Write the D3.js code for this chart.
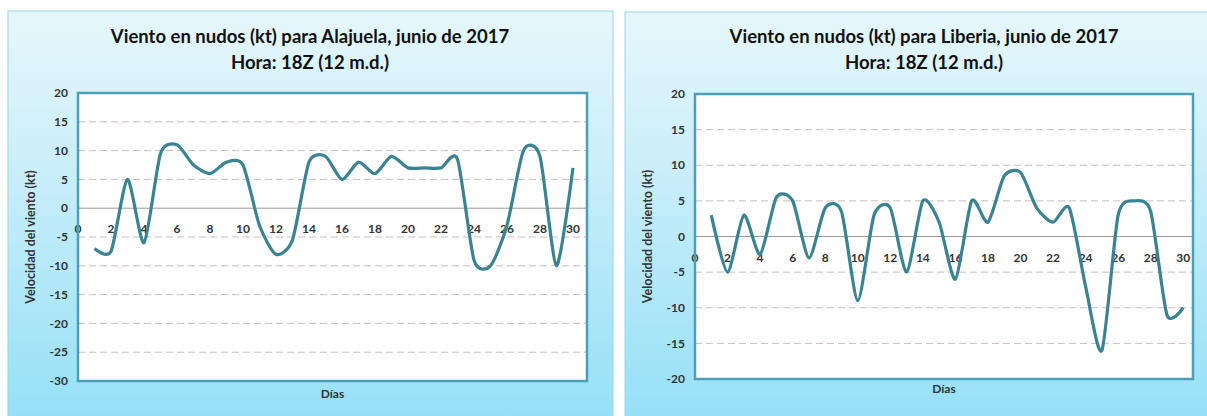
<!DOCTYPE html>
<html>
<head>
<meta charset="utf-8">
<script src="https://cdn.jsdelivr.net/npm/d3@7"></script>
<style>
  body { margin: 0; background: #fff; }
  svg text { font-family: Lato, "Open Sans", sans-serif; font-weight: bold; }
</style>
</head>
<body>
<div id="chart"></div>
<script>
// datos (dia 1..30, nudos)
const days = d3.range(1, 31)
const alajuela = [-7, -7.5, 5, -6, 9.5, 11, 7.5, 6, 8, 7.5, -3, -8, -5.5, 8, 9,
    5, 8, 6, 9, 7, 7, 7, 8.5, -9, -10, -3, 10, 9, -10, 7]
const liberia = [3, -5, 3, -2.5, 5.5, 5, -3, 4, 3.5, -9, 3, 4, -5, 5, 2,
    -6, 5, 2, 8.5, 9, 4, 2, 4, -7, -16, 3, 5, 3.5, -11, -10]
const xTicks = d3.range(0, 31, 2)
const yTicksAlajuela = d3.range(-30, 21, 5)
const yTicksLiberia = d3.range(-20, 21, 5)

const width = 1207
const height = 416

const svg = d3.select("#chart")
    .append("svg")
    .attr("width", width)
    .attr("height", height)

const defs = svg.append("defs")
const grad = defs.append("linearGradient")
    .attr("id", "bg")
    .attr("x1", 0).attr("y1", 0)
    .attr("x2", 0).attr("y2", 1)
grad.append("stop").attr("offset", "0%").attr("stop-color", "#e6f7fb")
grad.append("stop").attr("offset", "35%").attr("stop-color", "#cdeffa")
grad.append("stop").attr("offset", "100%").attr("stop-color", "#96e0f7")

function drawChart(opts) {
    const g = svg.append("g")

    // fondo del panel
    g.append("rect")
        .attr("x", opts.panel[0])
        .attr("y", opts.panel[1])
        .attr("width", opts.panel[2])
        .attr("height", opts.panel[3])
        .attr("fill", "url(#bg)")
        .attr("stroke", "#9fd3e2")
        .attr("stroke-width", 1)

    const x = d3.scaleLinear()
        .domain([0, opts.xMax])
        .range([opts.left, opts.right])
    const y = d3.scaleLinear()
        .domain(d3.extent(opts.yTicks))
        .range([opts.bottom, opts.top])

    // area de trazado
    g.append("rect")
        .attr("x", opts.left)
        .attr("y", opts.top)
        .attr("width", opts.right - opts.left)
        .attr("height", opts.bottom - opts.top)
        .attr("fill", "#fff")

    // lineas de division
    g.append("g")
        .selectAll("line")
        .data(opts.yTicks.filter(d => d !== 0 && d !== d3.max(opts.yTicks) && d !== d3.min(opts.yTicks)))
        .enter()
        .append("line")
        .attr("x1", opts.left)
        .attr("x2", opts.right)
        .attr("y1", d => y(d))
        .attr("y2", d => y(d))
        .attr("stroke", "#c9bdbd")
        .attr("stroke-width", 1)
        .attr("stroke-dasharray", "7,4")

    g.append("line")
        .attr("x1", opts.left)
        .attr("x2", opts.right)
        .attr("y1", y(0))
        .attr("y2", y(0))
        .attr("stroke", "#9a9a9a")
        .attr("stroke-width", 1)

    // eje y
    g.append("g")
        .selectAll("text")
        .data(opts.yTicks)
        .enter()
        .append("text")
        .attr("x", opts.left - 10)
        .attr("y", d => y(d))
        .attr("dy", "0.35em")
        .attr("text-anchor", "end")
        .attr("font-size", 12)
        .attr("fill", "#333")
        .text(d => d)

    // eje x (etiquetas sobre la linea de cero)
    g.append("g")
        .selectAll("text")
        .data(xTicks)
        .enter()
        .append("text")
        .attr("x", d => x(d))
        .attr("y", y(0) + 21)
        .attr("dy", "0.35em")
        .attr("text-anchor", "middle")
        .attr("font-size", 12)
        .attr("fill", "#333")
        .text(d => d)

    // serie
    const line = d3.line()
        .x((d, i) => x(days[i]))
        .y(d => y(d))
        .curve(d3.curveCardinal.tension(0.3))

    g.append("path")
        .datum(opts.values)
        .attr("d", line)
        .attr("fill", "none")
        .attr("stroke", "#3a8393")
        .attr("stroke-width", 3.2)
        .attr("stroke-linejoin", "round")

    // borde del area
    g.append("rect")
        .attr("x", opts.left)
        .attr("y", opts.top)
        .attr("width", opts.right - opts.left)
        .attr("height", opts.bottom - opts.top)
        .attr("fill", "none")
        .attr("stroke", "#4b9fb8")
        .attr("stroke-width", 2.5)

    // titulos
    const cx = opts.titleX
    g.append("text")
        .attr("x", cx)
        .attr("y", 43)
        .attr("text-anchor", "middle")
        .attr("font-size", 18.5)
        .attr("fill", "#111")
        .text(opts.title)
    g.append("text")
        .attr("x", cx)
        .attr("y", 69)
        .attr("text-anchor", "middle")
        .attr("font-size", 18.5)
        .attr("fill", "#111")
        .text("Hora: 18Z (12 m.d.)")

    g.append("text")
        .attr("x", (opts.left + opts.right) / 2)
        .attr("y", opts.xTitleY)
        .attr("text-anchor", "middle")
        .attr("font-size", 12)
        .attr("fill", "#333")
        .text("Días")

    g.append("text")
        .attr("transform", `translate(${opts.yTitleX},${(opts.top + opts.bottom) / 2}) rotate(-90)`)
        .attr("text-anchor", "middle")
        .attr("font-size", 12.5)
        .attr("fill", "#333")
        .text("Velocidad del viento (kt)")
}

drawChart({
    panel: [8, 11, 605, 406],
    left: 78, right: 587, top: 93, bottom: 381,
    xMax: 30.85,
    yTicks: yTicksAlajuela,
    values: alajuela,
    title: "Viento en nudos (kt) para Alajuela, junio de 2017",
    titleX: 310,
    xTitleY: 398,
    yTitleX: 35
})

drawChart({
    panel: [625, 12, 590, 406],
    left: 695, right: 1193, top: 94, bottom: 379,
    xMax: 30.6,
    yTicks: yTicksLiberia,
    values: liberia,
    title: "Viento en nudos (kt) para Liberia, junio de 2017",
    titleX: 924,
    xTitleY: 393,
    yTitleX: 652
})
</script>
</body>
</html>
